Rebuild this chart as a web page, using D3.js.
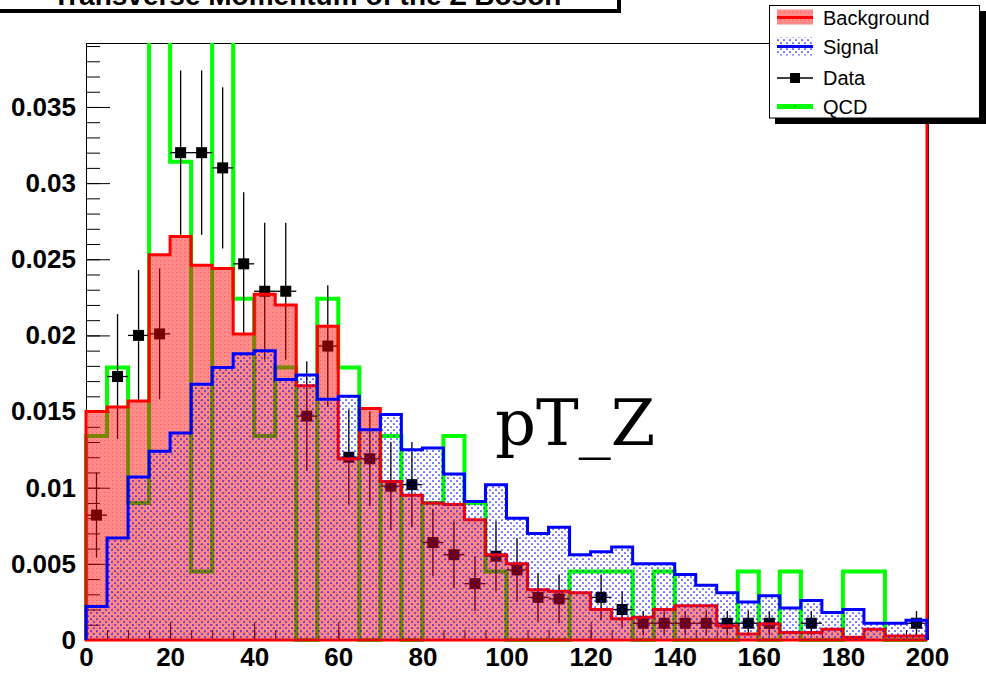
<!DOCTYPE html>
<html>
<head>
<meta charset="utf-8">
<script src="https://cdn.jsdelivr.net/npm/d3@7"></script>
<style>
  html, body { margin: 0; padding: 0; background: #fff; }
  svg { display: block; }
</style>
</head>
<body>
<svg id="chart" width="986" height="676"></svg>
<script>
// ---- histogram contents: 40 bins of 5 GeV from 0 to 200 ----
const binLow = [0, 5, 10, 15, 20, 25, 30, 35, 40, 45,
                50, 55, 60, 65, 70, 75, 80, 85, 90, 95,
                100, 105, 110, 115, 120, 125, 130, 135, 140, 145,
                150, 155, 160, 165, 170, 175, 180, 185, 190, 195];
const binWidth = 5;

const background = [0.0150, 0.0153, 0.0157, 0.0253, 0.0265, 0.0246, 0.0244, 0.0201, 0.0227, 0.0220,
                    0.0167, 0.0206, 0.0119, 0.0152, 0.0104, 0.0095, 0.0090, 0.0089, 0.0079, 0.0056,
                    0.0050, 0.0033, 0.0032, 0.0031, 0.0020, 0.0014, 0.0015, 0.0020, 0.00225, 0.00225,
                    0.00094, 0.0004, 0.00105, 0.0005, 0.0005, 0.0007, 0.00018, 0.0007, 0.00026, 0.00026];
const backgroundOverflow = 0.06;   // first bin past 200, off the scale

const signal = [0.0022, 0.0067, 0.0107, 0.0124, 0.0136, 0.0168, 0.0179, 0.0188, 0.0190, 0.0171,
                0.0174, 0.0158, 0.0160, 0.0138, 0.0148, 0.0125, 0.0126, 0.0109, 0.0091, 0.0102,
                0.0080, 0.0070, 0.0074, 0.0056, 0.0058, 0.0061, 0.0050, 0.0050, 0.0043, 0.0036,
                0.0031, 0.0025, 0.0029, 0.0021, 0.0026, 0.0018, 0.0020, 0.0011, 0.0011, 0.0013];

const qcd = [0.0134, 0.0179, 0.0090, 0.0448, 0.0314, 0.0045, 0.0448, 0.0224, 0.0134, 0.0179,
             0, 0.0224, 0.0179, 0, 0.0134, 0, 0.0090, 0.0134, 0.0090, 0.0045,
             0, 0, 0, 0.0045, 0.0045, 0.0045, 0, 0.0045, 0, 0,
             0, 0.0045, 0, 0.0045, 0, 0, 0.0045, 0.0045, 0, 0];

const dataVals = [0.0082, 0.0173, 0.0200, 0.0201, 0.0320, 0.0320, 0.0310, 0.0247, 0.0229, 0.0229,
                  0.0147, 0.0193, 0.0120, 0.0119, 0.0101, 0.0102, 0.0064, 0.0056, 0.0037, 0.0055,
                  0.0046, 0.0028, 0.0027, 0, 0.0028, 0.0020, 0.0011, 0.0011, 0.0011, 0.0011,
                  0.0011, 0.0011, 0.0011, 0, 0.0011, 0, 0, 0, 0, 0.0011];
const dataErr = [0.0028, 0.0041, 0.0043, 0.0043, 0.0054, 0.0054, 0.0053, 0.0047, 0.0045, 0.0045,
                 0.0036, 0.0040, 0.0031, 0.0031, 0.0029, 0.0028, 0.0022, 0.0022, 0.0018, 0.0023,
                 0.0021, 0.0016, 0.0016, 0, 0.0015, 0.0012, 0.0008, 0.0008, 0.0008, 0.0008,
                 0.0008, 0.0008, 0.0008, 0, 0.0008, 0, 0, 0, 0, 0.0008];

const xTicks = [0, 20, 40, 60, 80, 100, 120, 140, 160, 180, 200];
const xTickLabels = ["0", "20", "40", "60", "80", "100", "120", "140", "160", "180", "200"];
const yTicks = [0, 0.005, 0.01, 0.015, 0.02, 0.025, 0.03, 0.035];
const yTickLabels = ["0", "0.005", "0.01", "0.015", "0.02", "0.025", "0.03", "0.035"];

const titleText = "Transverse Momentum of the Z Boson";
const legendLabels = ["Background", "Signal", "Data", "QCD"];
const plotLabel = "pT_Z";

// ---- scales ----
const x = d3.scaleLinear().domain([0, 200]).range([86, 927]);
const y = d3.scaleLinear().domain([0, 0.0392]).range([640, 43]);

const svg = d3.select("#chart");
const labelFont = "'Liberation Sans', Arial, Helvetica, sans-serif";

// ---- fill patterns: half-covering red hatch (background), sparse dot lattice (signal) ----
const defs = svg.append("defs");
const bgPat = defs.append("pattern").attr("id", "bgPattern")
  .attr("patternUnits", "userSpaceOnUse").attr("width", 4).attr("height", 4);
bgPat.append("rect").attr("width", 4).attr("height", 4).attr("fill", "#ff0000").attr("fill-opacity", 0.46);
bgPat.append("rect").attr("x", 0).attr("y", 0).attr("width", 1).attr("height", 1)
  .attr("fill", "#ff0000").attr("fill-opacity", 0.35);

const sigPat = defs.append("pattern").attr("id", "sigPattern")
  .attr("patternUnits", "userSpaceOnUse").attr("width", 6).attr("height", 6);
sigPat.append("circle").attr("cx", 1).attr("cy", 1).attr("r", 0.85).attr("fill", "#0000ff");
sigPat.append("circle").attr("cx", 4).attr("cy", 4).attr("r", 0.85).attr("fill", "#0000ff");

defs.append("clipPath").attr("id", "frameClip")
  .append("rect").attr("x", 84).attr("y", 43).attr("width", 846).attr("height", 603);

// ---- axes (drawn first so the pattern fills lie over the ticks) ----
const yMinor = d3.range(0, 0.0391, 0.001);
const xMinor = d3.range(0, 200.1, 5);

const axes = svg.append("g").attr("font-family", labelFont).attr("font-weight", "bold");

axes.append("g").attr("transform", "translate(86,0)")
  .call(d3.axisLeft(y).tickValues(yMinor).tickFormat("").tickSizeInner(-14).tickSizeOuter(0))
  .call(g => g.select(".domain").remove());
axes.append("g").attr("transform", "translate(0,640)")
  .call(d3.axisBottom(x).tickValues(xMinor).tickFormat("").tickSizeInner(-10).tickSizeOuter(0))
  .call(g => g.select(".domain").remove());

const yAxisG = axes.append("g").attr("transform", "translate(86,0)")
  .call(d3.axisLeft(y).tickValues(yTicks).tickFormat((d, i) => yTickLabels[i])
    .tickSizeInner(-24).tickSizeOuter(0).tickPadding(10));
const xAxisG = axes.append("g").attr("transform", "translate(0,640)")
  .call(d3.axisBottom(x).tickValues(xTicks).tickFormat((d, i) => xTickLabels[i])
    .tickSizeInner(-18).tickSizeOuter(0).tickPadding(8));
[yAxisG, xAxisG].forEach(g => g.attr("font-size", 26).attr("font-family", labelFont)
  .attr("font-weight", "bold").selectAll("text").attr("fill", "#000"));
axes.selectAll("line").attr("stroke", "#000");
axes.selectAll(".domain").attr("stroke", "#000");

// frame top and right edges
svg.append("line").attr("x1", x(0)).attr("x2", x(200)).attr("y1", y(0.0392) + 0.5).attr("y2", y(0.0392) + 0.5)
  .attr("stroke", "#000");
svg.append("line").attr("x1", x(200) + 1.5).attr("x2", x(200) + 1.5).attr("y1", y(0.0392)).attr("y2", y(0))
  .attr("stroke", "#000");

// ---- histograms ----
function stepPoints(vals, startVal, endVal) {
  const pts = [[binLow[0], startVal]];
  vals.forEach((v, i) => {
    pts.push([binLow[i], v]);
    pts.push([binLow[i] + binWidth, v]);
  });
  pts.push([binLow[vals.length - 1] + binWidth, endVal]);
  return pts;
}
const line = d3.line().x(d => x(d[0])).y(d => y(d[1]));

const plot = svg.append("g").attr("clip-path", "url(#frameClip)");

// QCD outline
plot.append("path").attr("d", line(stepPoints(qcd, 0, 0)))
  .attr("fill", "none").attr("stroke", "#00ff00").attr("stroke-width", 4)
  .attr("stroke-linejoin", "miter");

// Data points with error bars
const dataG = plot.append("g");
binLow.forEach((lo, i) => {
  const v = dataVals[i];
  if (v <= 0) return;
  const e = dataErr[i];
  const cx = x(lo + binWidth / 2);
  dataG.append("line").attr("x1", cx).attr("x2", cx)
    .attr("y1", y(Math.max(v - e, 0))).attr("y2", y(v + e))
    .attr("stroke", "#000").attr("stroke-width", 1.3);
  dataG.append("line").attr("x1", x(lo)).attr("x2", x(lo + binWidth))
    .attr("y1", y(v)).attr("y2", y(v))
    .attr("stroke", "#000").attr("stroke-width", 1.3);
  dataG.append("rect").attr("x", cx - 5.5).attr("y", y(v) - 5.5)
    .attr("width", 11).attr("height", 11).attr("fill", "#000");
});

// Background: pattern fill + outline (including the off-scale bin past 200)
plot.append("path").attr("d", line(stepPoints(background, 0, 0)) + "Z")
  .attr("fill", "url(#bgPattern)").attr("stroke", "none");
const bgOutline = [[200, 0]].concat(stepPoints(background, 0, backgroundOverflow));
plot.append("path").attr("d", line(bgOutline))
  .attr("fill", "none").attr("stroke", "#ff0000").attr("stroke-width", 3);

// Signal: pattern fill + outline
plot.append("path").attr("d", line(stepPoints(signal, 0, 0)) + "Z")
  .attr("fill", "url(#sigPattern)").attr("stroke", "none");
plot.append("path").attr("d", line(stepPoints(signal, 0, 0)))
  .attr("fill", "none").attr("stroke", "#0000ff").attr("stroke-width", 3);

// ---- label inside the pad ----
svg.append("text").attr("x", 495).attr("y", 445)
  .attr("font-family", "'DejaVu Serif', serif").attr("font-size", 64)
  .attr("fill", "#000").text(plotLabel);

// ---- title box ----
svg.append("rect").attr("x", -10).attr("y", -40).attr("width", 631).attr("height", 53).attr("fill", "#000");
svg.append("rect").attr("x", -13.5).attr("y", -43.5).attr("width", 631).attr("height", 53)
  .attr("fill", "#fff").attr("stroke", "#000").attr("stroke-width", 1);
svg.append("text").attr("x", 307).attr("y", 5).attr("text-anchor", "middle")
  .attr("font-family", labelFont).attr("font-weight", "bold").attr("font-size", 28)
  .attr("fill", "#000").text(titleText);

// ---- legend ----
const leg = svg.append("g");
leg.append("rect").attr("x", 775).attr("y", 11).attr("width", 211).attr("height", 113).attr("fill", "#000");
leg.append("rect").attr("x", 769.5).attr("y", 5.5).attr("width", 210).attr("height", 112.5)
  .attr("fill", "#fff").attr("stroke", "#000").attr("stroke-width", 1);

const rowY = [17.5, 46.5, 78, 106.5];
const sx0 = 777, sx1 = 813;
// Background swatch
leg.append("rect").attr("x", sx0).attr("y", rowY[0] - 8).attr("width", sx1 - sx0).attr("height", 15)
  .attr("fill", "url(#bgPattern)");
leg.append("line").attr("x1", sx0).attr("x2", sx1).attr("y1", rowY[0]).attr("y2", rowY[0])
  .attr("stroke", "#ff0000").attr("stroke-width", 3);
// Signal swatch
leg.append("rect").attr("x", sx0).attr("y", rowY[1] - 9).attr("width", sx1 - sx0).attr("height", 18)
  .attr("fill", "url(#sigPattern)");
leg.append("line").attr("x1", sx0).attr("x2", sx1).attr("y1", rowY[1]).attr("y2", rowY[1])
  .attr("stroke", "#0000ff").attr("stroke-width", 3);
// Data swatch
leg.append("line").attr("x1", sx0).attr("x2", sx1).attr("y1", rowY[2]).attr("y2", rowY[2])
  .attr("stroke", "#000").attr("stroke-width", 1.3);
leg.append("rect").attr("x", (sx0 + sx1) / 2 - 5).attr("y", rowY[2] - 5).attr("width", 10).attr("height", 10)
  .attr("fill", "#000");
// QCD swatch
leg.append("line").attr("x1", sx0).attr("x2", sx1).attr("y1", rowY[3]).attr("y2", rowY[3])
  .attr("stroke", "#00ff00").attr("stroke-width", 5);
leg.append("rect").attr("x", (sx0 + sx1) / 2 - 0.5).attr("y", rowY[3] - 0.5).attr("width", 1).attr("height", 1)
  .attr("fill", "#000");

leg.selectAll("text.lab").data(legendLabels).join("text")
  .attr("class", "lab")
  .attr("x", 823).attr("y", (d, i) => rowY[i] + 7)
  .attr("font-family", labelFont).attr("font-size", 20).attr("fill", "#000")
  .text(d => d);
</script>
</body>
</html>
